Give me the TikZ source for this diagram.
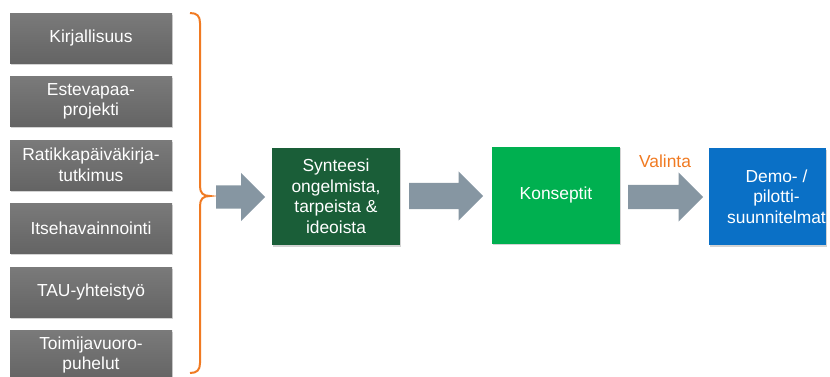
\documentclass[tikz,border=0pt]{standalone}
\usepackage{fontspec}
\setmainfont{Liberation Sans}
\usetikzlibrary{shapes.arrows,shadows}
\definecolor{srcgraytop}{HTML}{7A7A7A}
\definecolor{srcgraybot}{HTML}{646464}
\definecolor{synthgreen}{HTML}{1A5E38}
\definecolor{conceptgreen}{HTML}{00B050}
\definecolor{pilotblue}{HTML}{0A70C6}
\definecolor{flowgray}{HTML}{8696A2}
\definecolor{braceorange}{HTML}{F07A22}

\begin{document}
\begin{tikzpicture}[x=1pt, y=-1pt,
  boxfont/.style={font=\fontsize{17.4}{20.5}\selectfont, text=white, align=center},
  srcbox/.style={boxfont, inner sep=0pt, minimum width=162pt, minimum height=50pt,
    top color=srcgraytop, bottom color=srcgraybot,
    drop shadow={shadow xshift=1pt, shadow yshift=-1.5pt, opacity=0.35}},
  stagebox/.style={boxfont, inner sep=0pt, minimum width=128pt, minimum height=97pt,
    drop shadow={shadow xshift=1pt, shadow yshift=-1.5pt, opacity=0.35}},
  flowarrow/.style={single arrow, fill=flowgray, inner xsep=0pt, anchor=tail,
    single arrow head extend=12.5pt}]
\useasboundingbox (0,0) rectangle (830,376);
% sources
\node[srcbox] (lit) at (91,38) {Kirjallisuus};
\node[srcbox] (este) at (91,101.5) {Estevapaa-\\projekti};
\node[srcbox] (ratikka) at (91,165) {Ratikkapäiväkirja-\\tutkimus};
\node[srcbox] (itse) at (91,228) {Itsehavainnointi};
\node[srcbox] (tau) at (91,292) {TAU-yhteistyö};
\node[srcbox] (toimi) at (91,355) {Toimijavuoro-\\puhelut};
% brace
\draw[braceorange, line width=2pt] (190,13) .. controls (197,13) and (200,16) .. (200,23)
  -- (200,186) .. controls (200,193) and (203,196) .. (210,196)
  .. controls (203,196) and (200,199) .. (200,206)
  -- (200,363) .. controls (200,370) and (197,373) .. (190,373);
% stages
\node[stagebox, fill=synthgreen] (synth) at (336,196.5) {Synteesi\\ongelmista,\\tarpeista \&\\ideoista};
\node[stagebox, fill=conceptgreen] (concept) at (556,195) {Konseptit};
\node[stagebox, fill=pilotblue, minimum width=111pt] (pilot) at (767.5,196.5) {\hspace*{18pt}Demo- /\\\hspace*{18pt}pilotti-\\\hspace*{18pt}suunnitelmat};
% arrows
\node[flowarrow, inner ysep=11.5pt, minimum height=49pt] (arr1) at (216,197) {};
\node[flowarrow, inner ysep=13pt, minimum height=74pt, single arrow head extend=11.5pt] (arr2) at (409,196) {};
\node[flowarrow, inner ysep=12pt, minimum height=75pt] (arr3) at (628,197) {};
\node[font=\fontsize{17.4}{20.5}\selectfont, text=braceorange] (valinta) at (665,161) {Valinta};
\end{tikzpicture}
\end{document}
